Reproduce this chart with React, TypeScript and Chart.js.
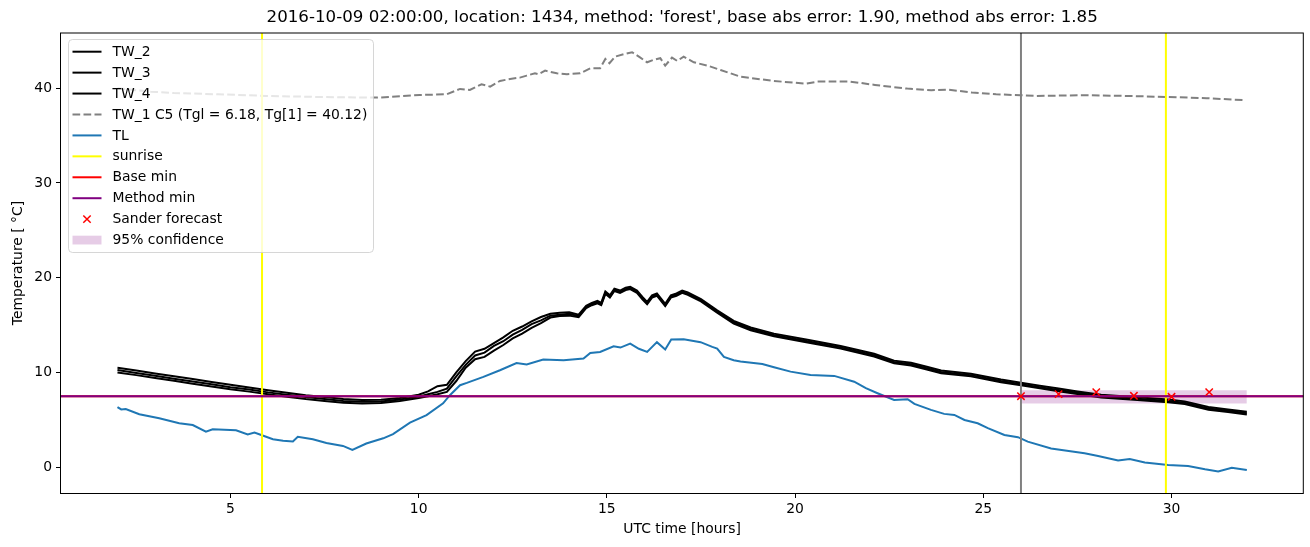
import React, { useEffect, useRef } from "react";
import { Chart, registerables } from "chart.js";

Chart.register(...registerables);

const titleText =
  "2016-10-09 02:00:00, location: 1434, method: 'forest', base abs error: 1.90, method abs error: 1.85";
const xAxisLabel = "UTC time [hours]";
const yAxisLabel = "Temperature [ °C]";

const xTicks = [5, 10, 15, 20, 25, 30];
const yTicks = [0, 10, 20, 30, 40];

const twHours = [
  2, 2.5, 3, 3.5, 4, 4.5, 5, 5.5, 6, 6.5, 7, 7.5, 8, 8.5, 9, 9.5, 10, 10.25, 10.5, 10.75,
  11, 11.25, 11.5, 11.75, 12, 12.25, 12.5, 12.75, 13, 13.25, 13.5, 13.75, 14, 14.25, 14.45,
  14.6, 14.75, 14.85, 14.96, 15.08, 15.2, 15.35, 15.5, 15.62, 15.8, 15.95, 16.07, 16.2,
  16.33, 16.45, 16.55, 16.7, 16.85, 17.0, 17.15, 17.5, 17.93, 18.37, 18.82, 19.44, 20.33,
  21.21, 22.1, 22.63, 23.08, 23.5, 23.88, 24.67, 25.47, 26.0, 26.5, 27.0, 27.5, 28.13, 29.0,
  29.91, 30.35, 30.98, 31.5, 32,
];
const tw2 = [
  10.5, 10.2, 9.9, 9.6, 9.3, 9.0, 8.7, 8.42, 8.12, 7.85, 7.6, 7.4, 7.2, 7.1, 7.12, 7.3, 7.65,
  8.0, 8.55, 8.7, 10.0, 11.2, 12.2, 12.5, 13.1, 13.7, 14.4, 14.85, 15.4, 15.85, 16.2, 16.3,
  16.35, 16.1, 17.05, 17.35, 17.55, 17.35, 18.55, 18.15, 18.85, 18.65, 18.95, 19.05, 18.65,
  17.95, 17.45, 18.15, 18.35, 17.75, 17.25, 18.15, 18.35, 18.65, 18.45, 17.75, 16.55, 15.45,
  14.75, 14.1, 13.45, 12.8, 11.97, 11.25, 11.02, 10.6, 10.21, 9.87, 9.25, 8.92, 8.6, 8.3,
  8.0, 7.65, 7.4, 7.15, 6.95, 6.35, 6.1, 5.85,
];
const tw3 = [
  10.25, 9.95, 9.65, 9.35, 9.05, 8.75, 8.45, 8.2, 7.9, 7.65, 7.4, 7.2, 7.0, 6.9, 6.95, 7.15,
  7.45, 7.7, 7.95, 8.3, 9.6, 10.8, 11.8, 12.1, 12.8, 13.3, 14.0, 14.5, 15.1, 15.5, 16.0, 16.1,
  16.2, 15.95, 16.9, 17.2, 17.4, 17.2, 18.4, 18.0, 18.7, 18.5, 18.8, 18.9, 18.5, 17.8, 17.3,
  18.0, 18.2, 17.6, 17.1, 18.0, 18.2, 18.5, 18.3, 17.6, 16.4, 15.3, 14.6, 13.95, 13.3, 12.65,
  11.82, 11.1, 10.87, 10.45, 10.06, 9.72, 9.1, 8.77, 8.45, 8.15, 7.85, 7.5, 7.26, 7.0, 6.8,
  6.2, 5.95, 5.7,
];
const tw4 = [
  10.0, 9.72, 9.42, 9.12, 8.82, 8.52, 8.22, 7.98, 7.7, 7.45, 7.2, 7.0, 6.8, 6.72, 6.78, 7.0,
  7.3, 7.5, 7.7, 7.95, 9.1, 10.5, 11.4, 11.65, 12.3, 12.9, 13.6, 14.1, 14.7, 15.2, 15.8,
  15.95, 16.0, 15.85, 16.8, 17.1, 17.3, 17.1, 18.3, 17.9, 18.6, 18.4, 18.7, 18.8, 18.4, 17.7,
  17.2, 17.9, 18.1, 17.5, 17.0, 17.9, 18.1, 18.4, 18.2, 17.5, 16.3, 15.17, 14.46, 13.82,
  13.17, 12.52, 11.69, 10.97, 10.74, 10.32, 9.93, 9.59, 8.97, 8.65, 8.33, 8.03, 7.73, 7.37,
  7.13, 6.87, 6.67, 6.07, 5.82, 5.57,
];

const tw1Hours = [
  2.0, 2.88, 3.5, 4.68, 5.95, 7.32, 8.91, 10.03, 10.74, 11.1, 11.36, 11.67, 11.9, 12.16,
  12.43, 12.69, 12.87, 13.09, 13.18, 13.36, 13.67, 13.94, 14.29, 14.56, 14.82, 14.96, 15.07,
  15.22, 15.45, 15.67, 15.89, 16.07, 16.24, 16.42, 16.55, 16.73, 16.87, 17.04, 17.31, 17.67,
  18.02, 18.55, 19.43, 19.96, 20.29, 20.61, 21.47, 22.12, 22.98, 23.62, 24.05, 24.7, 25.34,
  25.99, 26.41, 27.71, 28.78, 29.86, 30.93, 31.95,
];
const tw1 = [
  40.0, 39.64, 39.5, 39.36, 39.19, 39.08, 39.01, 39.29, 39.36, 39.93, 39.82, 40.42, 40.17,
  40.77, 40.98, 41.12, 41.33, 41.58, 41.48, 41.86, 41.58, 41.48, 41.58, 42.1, 42.1, 43.09,
  42.64, 43.34, 43.59, 43.8, 43.23, 42.74, 42.99, 43.17, 42.39, 43.23, 42.88, 43.34, 42.74,
  42.39, 41.93, 41.22, 40.77, 40.59, 40.49, 40.7, 40.7, 40.35, 39.96, 39.79, 39.86, 39.54,
  39.36, 39.26, 39.19, 39.26, 39.19, 39.08, 38.95, 38.74,
];

const tlHours = [
  2.0, 2.1, 2.22, 2.58, 3.11, 3.64, 4.0, 4.35, 4.53, 5.15, 5.46, 5.64, 5.82, 6.13, 6.4, 6.66,
  6.79, 7.19, 7.55, 7.99, 8.24, 8.61, 9.06, 9.32, 9.77, 10.21, 10.65, 10.83, 11.1, 11.28,
  11.72, 12.16, 12.6, 12.87, 13.31, 13.85, 14.38, 14.56, 14.82, 15.18, 15.36, 15.62, 15.85,
  16.07, 16.33, 16.55, 16.71, 17.04, 17.49, 17.8, 17.93, 18.11, 18.37, 18.55, 19.13, 19.44,
  19.88, 20.41, 21.04, 21.57, 21.88, 22.19, 22.63, 22.99, 23.17, 23.61, 23.96, 24.23, 24.5,
  24.85, 25.12, 25.56, 25.92, 26.18, 26.8, 27.69, 28.05, 28.58, 28.89, 29.29, 29.91, 30.44,
  30.89, 31.24, 31.6, 32.0,
];
const tl = [
  6.35, 6.1, 6.14, 5.6, 5.16, 4.65, 4.45, 3.75, 4.0, 3.9, 3.45, 3.65, 3.4, 2.95, 2.8, 2.72,
  3.22, 2.95, 2.55, 2.25, 1.82, 2.5, 3.05, 3.5, 4.7, 5.5, 6.75, 7.6, 8.66, 8.9, 9.54, 10.24,
  11.0, 10.84, 11.37, 11.3, 11.47, 12.06, 12.17, 12.77, 12.63, 13.05, 12.5, 12.17, 13.2,
  12.42, 13.47, 13.5, 13.2, 12.7, 12.53, 11.64, 11.3, 11.15, 10.9, 10.55, 10.09, 9.74, 9.64,
  9.03, 8.34, 7.81, 7.1, 7.18, 6.68, 6.05, 5.63, 5.52, 4.99, 4.64, 4.12, 3.41, 3.17, 2.7,
  1.97, 1.47, 1.19, 0.7, 0.87, 0.49, 0.24, 0.14, -0.21, -0.45, -0.05, -0.3,
];

const sunriseHours = [5.84, 29.85];
const forecastStartHour = 26;
const baseMin = 7.5;
const methodMin = 7.5;
const sanderHours = [26, 27, 28, 29, 30, 31];
const sanderValues = [7.5, 7.72, 7.93, 7.54, 7.43, 7.93];
const confHours = [26, 32];
const confLow = [6.73, 6.73];
const confHigh = [8.13, 8.13];

const FONT = "DejaVu Sans";
const BLUE = "#1f77b4";
const DASH = [7.7, 3.3];
const CONF_FILL = "rgba(128,0,128,0.2)";

type LegendItem = {
  label: string;
  kind: "line" | "marker" | "patch";
  color: string;
  dash?: number[];
};

const legendItems: LegendItem[] = [
  { label: "TW_2", kind: "line", color: "#000000" },
  { label: "TW_3", kind: "line", color: "#000000" },
  { label: "TW_4", kind: "line", color: "#000000" },
  { label: "TW_1 C5 (Tgl = 6.18, Tg[1] = 40.12)", kind: "line", color: "#808080", dash: DASH },
  { label: "TL", kind: "line", color: BLUE },
  { label: "sunrise", kind: "line", color: "#ffff00" },
  { label: "Base min", kind: "line", color: "#ff0000" },
  { label: "Method min", kind: "line", color: "#800080" },
  { label: "Sander forecast", kind: "marker", color: "#ff0000" },
  { label: "95% confidence", kind: "patch", color: CONF_FILL },
];

const xy = (xs: number[], ys: number[]) => xs.map((x, i) => ({ x, y: ys[i] }));
const vline = (h: number) => [
  { x: h, y: -100 },
  { x: h, y: 100 },
];
const hline = (v: number) => [
  { x: -100, y: v },
  { x: 100, y: v },
];

const decorPlugin = {
  id: "decor",
  afterDraw(chart: any) {
    const ctx = chart.ctx as CanvasRenderingContext2D;
    const ca = chart.chartArea;
    ctx.save();

    // frame
    ctx.strokeStyle = "#000";
    ctx.lineWidth = 1;
    ctx.setLineDash([]);
    ctx.strokeRect(ca.left - 0.5, ca.top, ca.right - ca.left + 0.5, ca.bottom - ca.top + 0.5);

    // legend box
    const bx = 68.5, by = 39.5, bw = 305, bh = 213;
    ctx.beginPath();
    (ctx as any).roundRect(bx, by, bw, bh, 4);
    ctx.fillStyle = "rgba(255,255,255,0.8)";
    ctx.fill();
    ctx.strokeStyle = "rgba(204,204,204,0.8)";
    ctx.lineWidth = 1;
    ctx.stroke();

    ctx.font = `13.9px "${FONT}"`;
    ctx.textBaseline = "middle";
    ctx.textAlign = "left";
    legendItems.forEach((it, i) => {
      const y = 51.7 + i * 20.93;
      if (it.kind === "line") {
        ctx.beginPath();
        ctx.strokeStyle = it.color;
        ctx.lineWidth = 2;
        ctx.setLineDash(it.dash || []);
        ctx.moveTo(72.5, y);
        ctx.lineTo(101.5, y);
        ctx.stroke();
        ctx.setLineDash([]);
      } else if (it.kind === "marker") {
        const cx = 87, r = 3.7;
        ctx.beginPath();
        ctx.strokeStyle = it.color;
        ctx.lineWidth = 1.5;
        ctx.moveTo(cx - r, y - r);
        ctx.lineTo(cx + r, y + r);
        ctx.moveTo(cx - r, y + r);
        ctx.lineTo(cx + r, y - r);
        ctx.stroke();
      } else {
        ctx.fillStyle = it.color;
        ctx.fillRect(72.5, y - 4.4, 29, 8.8);
      }
      ctx.fillStyle = "#000";
      ctx.fillText(it.label, 112.5, y + 0.5);
    });

    // title
    ctx.fillStyle = "#000";
    ctx.textAlign = "center";
    ctx.textBaseline = "middle";
    ctx.font = `16.67px "${FONT}"`;
    ctx.fillText(titleText, (ca.left + ca.right) / 2, 18);

    // axis labels
    ctx.font = `13.9px "${FONT}"`;
    ctx.fillText(xAxisLabel, (ca.left + ca.right) / 2, 529);
    ctx.translate(18, (ca.top + ca.bottom) / 2);
    ctx.rotate(-Math.PI / 2);
    ctx.fillText(yAxisLabel, 0, 0);
    ctx.restore();
  },
};

export default function App() {
  const ref = useRef<HTMLCanvasElement>(null);

  useEffect(() => {
    const canvas = ref.current!;
    const lineBase = {
      type: "line" as const,
      pointRadius: 0,
      borderWidth: 2,
      tension: 0,
      fill: false,
    };
    const datasets: any[] = [
      {
        ...lineBase,
        label: "conf_low",
        data: xy(confHours, confLow),
        borderColor: "rgba(0,0,0,0)",
        borderWidth: 0,
        order: 101,
      },
      {
        ...lineBase,
        label: "95% confidence",
        data: xy(confHours, confHigh),
        borderColor: "rgba(0,0,0,0)",
        borderWidth: 0,
        fill: "-1",
        backgroundColor: CONF_FILL,
        order: 100,
      },
      { ...lineBase, label: "TW_2", data: xy(twHours, tw2), borderColor: "#000", order: 60 },
      { ...lineBase, label: "TW_3", data: xy(twHours, tw3), borderColor: "#000", order: 59 },
      { ...lineBase, label: "TW_4", data: xy(twHours, tw4), borderColor: "#000", order: 58 },
      {
        ...lineBase,
        label: "TW_1",
        data: xy(tw1Hours, tw1),
        borderColor: "#808080",
        borderDash: DASH,
        order: 57,
      },
      { ...lineBase, label: "TL", data: xy(tlHours, tl), borderColor: BLUE, order: 56 },
      ...sunriseHours.map((h, i) => ({
        ...lineBase,
        label: "sunrise" + i,
        data: vline(h),
        borderColor: "#ffff00",
        clip: 0,
        order: 55 - i * 0.1,
      })),
      {
        ...lineBase,
        label: "forecast start",
        data: vline(forecastStartHour),
        borderColor: "#808080",
        clip: 0,
        order: 54,
      },
      { ...lineBase, label: "Base min", data: hline(baseMin), borderColor: "#ff0000", clip: 0, order: 53 },
      { ...lineBase, label: "Method min", data: hline(methodMin), borderColor: "#800080", clip: 0, order: 52 },
      {
        type: "line",
        label: "Sander forecast",
        data: xy(sanderHours, sanderValues),
        showLine: false,
        pointStyle: "crossRot",
        pointRadius: 5.2,
        pointBorderWidth: 1.5,
        pointBorderColor: "#ff0000",
        pointBackgroundColor: "#ff0000",
        borderColor: "#ff0000",
        order: 51,
      },
    ];

    const tickFont = { family: FONT, size: 13.9 };
    const chart = new Chart(canvas, {
      type: "line",
      data: { datasets },
      plugins: [decorPlugin],
      options: {
        animation: false,
        responsive: false,
        devicePixelRatio: 1,
        events: [],
        layout: { padding: { top: 33, right: 6.5, left: 0, bottom: 0 } },
        plugins: {
          legend: { display: false },
          tooltip: { enabled: false },
          title: { display: false },
        },
        scales: {
          x: {
            type: "linear",
            min: 0.5,
            max: 33.5,
            afterBuildTicks: (s: any) => {
              s.ticks = xTicks.map((v) => ({ value: v }));
            },
            afterFit: (s: any) => {
              s.height = 54;
            },
            grid: {
              display: true,
              drawOnChartArea: false,
              drawTicks: true,
              tickLength: 5,
              color: "#000",
              lineWidth: 1,
            },
            border: { display: false },
            ticks: {
              color: "#000",
              font: tickFont,
              padding: 3,
              maxRotation: 0,
              autoSkip: false,
              callback: (v: any) => String(v),
            },
          },
          y: {
            type: "linear",
            min: -2.72,
            max: 45.83,
            afterBuildTicks: (s: any) => {
              s.ticks = yTicks.map((v) => ({ value: v }));
            },
            afterFit: (s: any) => {
              s.width = 61;
            },
            grid: {
              display: true,
              drawOnChartArea: false,
              drawTicks: true,
              tickLength: 5,
              color: "#000",
              lineWidth: 1,
            },
            border: { display: false },
            ticks: {
              color: "#000",
              font: tickFont,
              padding: 4,
              autoSkip: false,
              callback: (v: any) => String(v),
            },
          },
        },
      } as any,
    });
    return () => chart.destroy();
  }, []);

  return (
    <div style={{ position: "absolute", left: 0, top: 0, width: 1310, height: 547, background: "#fff" }}>
      <canvas ref={ref} width={1310} height={547} style={{ display: "block" }} />
    </div>
  );
}
